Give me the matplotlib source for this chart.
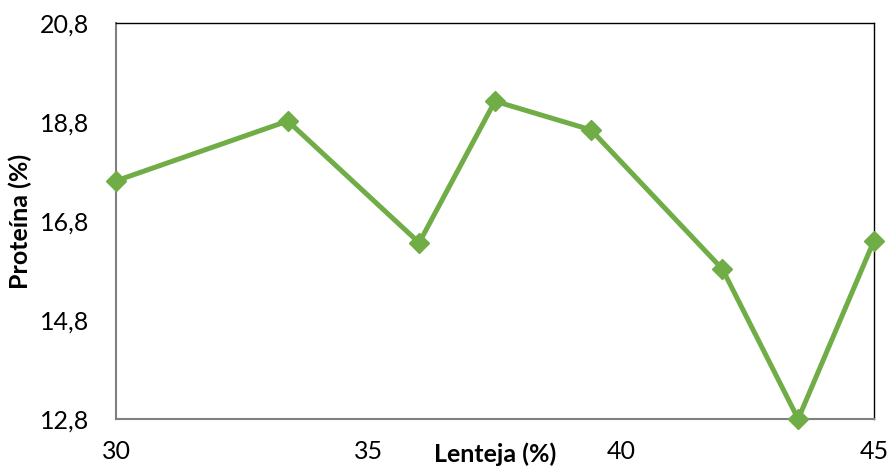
import numpy as np
import matplotlib.pyplot as plt

plt.rcParams['font.family'] = ['Lato', 'DejaVu Sans']

# lentil content (%) vs protein (%)
lenteja = [30, 33.4, 36, 37.5, 39.4, 42, 43.5, 45]
proteina = [17.61, 18.82, 16.36, 19.22, 18.64, 15.83, 12.8, 16.40]

y_ticks = [12.8, 14.8, 16.8, 18.8, 20.8]
y_labels = ["12,8", "14,8", "16,8", "18,8", "20,8"]
x_ticks = [30, 35, 40, 45]
x_labels = ["30", "35", "40", "45"]

fig = plt.figure(figsize=(8.88, 4.69), dpi=100)
ax = fig.add_axes([0.1306, 0.1066, 0.8536, 0.8444])

ax.plot(lenteja, proteina, color="#70AD47", lw=3.6, marker="D",
        markersize=10, markerfacecolor="#70AD47", markeredgecolor="#70AD47",
        clip_on=False, zorder=3)

ax.set_xlim(30, 45)
ax.set_ylim(12.8, 20.8)
ax.set_xticks(x_ticks)
ax.set_xticklabels(x_labels)
ax.set_yticks(y_ticks)
ax.set_yticklabels(y_labels)
ax.tick_params(axis="both", length=0, labelsize=18, colors="black")
ax.tick_params(axis="x", pad=15)
ax.tick_params(axis="y", pad=19)

for side in ["left", "bottom"]:
    ax.spines[side].set_color("#7f7f7f")
    ax.spines[side].set_linewidth(1.5)
for side in ["top", "right"]:
    ax.spines[side].set_color("black")
    ax.spines[side].set_linewidth(1.0)

ax.set_xlabel("Lenteja (%)", fontsize=18, fontweight="bold")
ax.xaxis.set_label_coords(0.5, -0.06)
ax.set_ylabel("Proteína (%)", fontsize=18, fontweight="bold")
ax.yaxis.set_label_coords(-0.111, 0.5)

fig.savefig("out.png", dpi=100)
